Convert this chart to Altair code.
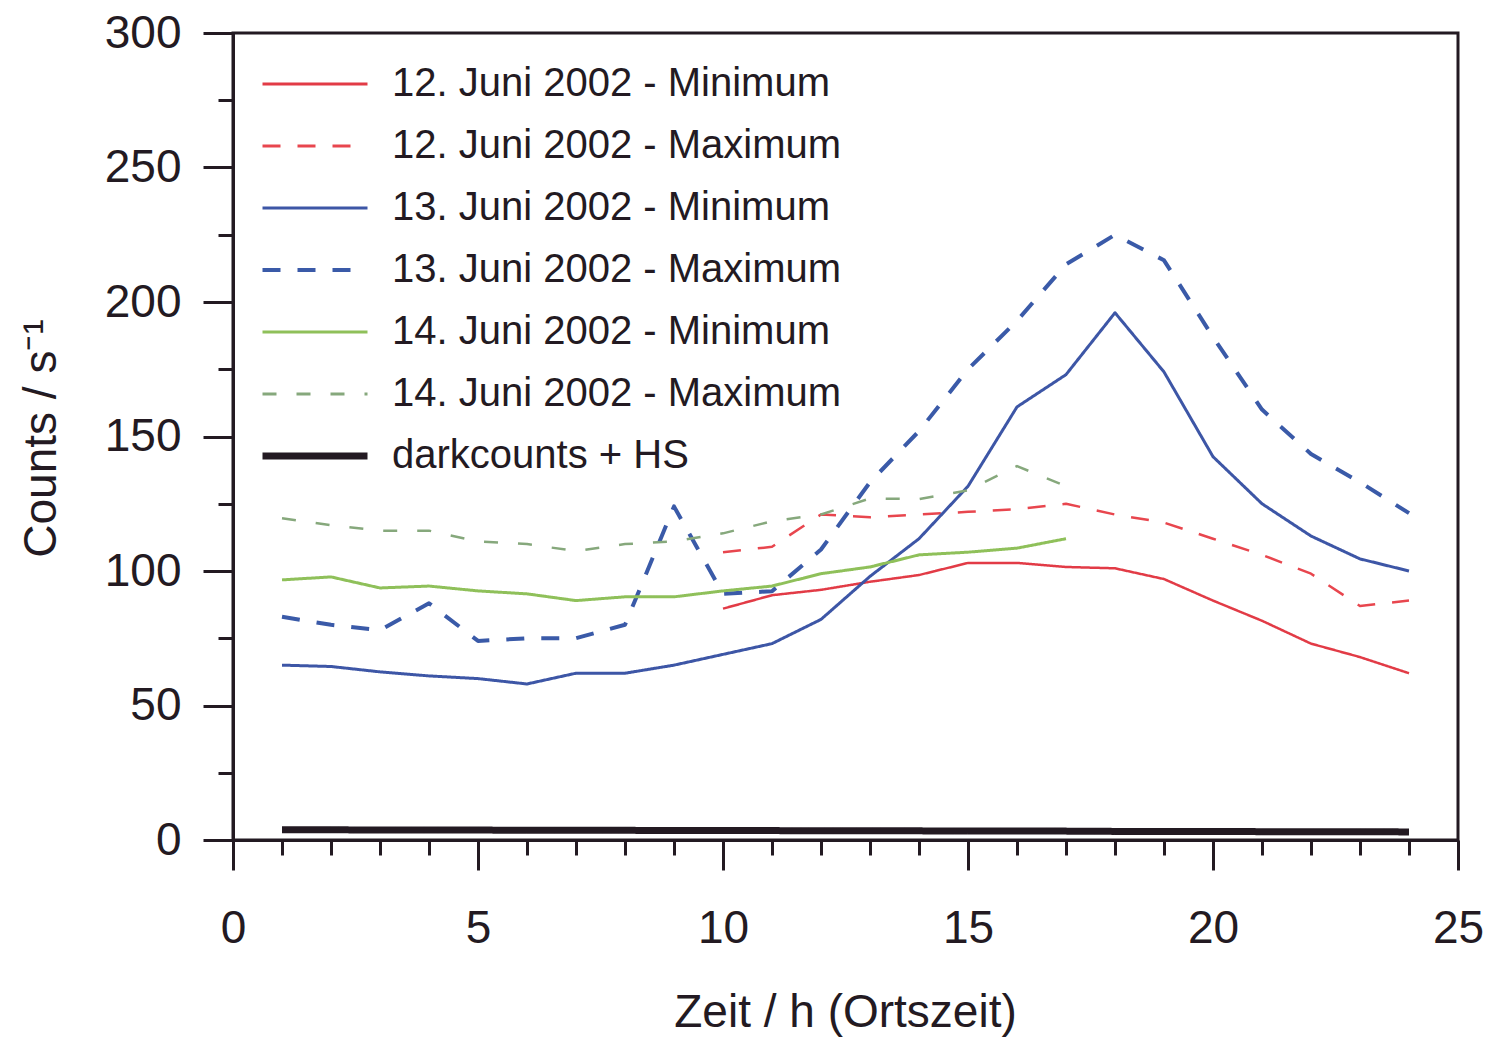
import altair as alt
import pandas as pd

hours = list(range(1, 25))

series_names = [
    "12. Juni 2002 - Minimum",
    "12. Juni 2002 - Maximum",
    "13. Juni 2002 - Minimum",
    "13. Juni 2002 - Maximum",
    "14. Juni 2002 - Minimum",
    "14. Juni 2002 - Maximum",
    "darkcounts + HS",
]

jun12_min = [None] * 9 + [86, 91, 93, 96, 98.5, 103, 103, 101.5, 101, 97, 89, 81.5, 73, 68, 62]
jun12_max = [None] * 9 + [107, 109, 121, 120, 121, 122, 123, 125, 121, 118, 112, 106, 99, 87, 89]
jun13_min = [65, 64.5, 62.5, 61, 60, 58, 62, 62, 65, 69, 73, 82, 98, 112, 131.5, 161, 173, 196, 174, 142.5, 125, 113, 104.5, 100]
jun13_max = [83, 80, 78, 88, 74, 75, 75, 80, 124, 91.5, 92.5, 108, 133, 152, 175, 193, 214, 225, 215.5, 187, 160, 143.5, 133, 121.5]
jun14_min = [96.7, 97.8, 93.7, 94.4, 92.6, 91.5, 89, 90.4, 90.4, 92.6, 94.4, 99, 101.5, 106, 107, 108.5, 112] + [None] * 7
jun14_max = [119.6, 117, 115, 115, 111, 110, 107.4, 110, 111, 114, 118.5, 121, 127, 126.7, 130, 139, 131.5] + [None] * 7
darkcounts = [3.8, 3.8, 3.7, 3.7, 3.7, 3.6, 3.6, 3.6, 3.5, 3.5, 3.5, 3.4, 3.4, 3.4, 3.3, 3.3, 3.3, 3.2, 3.2, 3.2, 3.1, 3.1, 3.1, 3.0]

all_values = [jun12_min, jun12_max, jun13_min, jun13_max, jun14_min, jun14_max, darkcounts]

colors = ["#e23b46", "#e8464e", "#3d56a6", "#3a5aa8", "#8fc05a", "#86a87c", "#231a22"]
dashes = [[1, 0], [18, 17], [1, 0], [18, 17], [1, 0], [14, 20], [1, 0]]
widths = [2.5, 2.5, 3, 4, 3, 2.5, 7]

rows = []
for name, vals, w in zip(series_names, all_values, widths):
    for h, v in zip(hours, vals):
        if v is not None:
            rows.append({"Zeit": h, "Counts": v, "series": name, "w": w})
df = pd.DataFrame(rows)

ink = "#231a22"
font = "Liberation Sans"

x_axis = alt.Axis(
    values=list(range(0, 26)),
    labelExpr="datum.value % 5 === 0 ? datum.label : ''",
    tickSize={"condition": {"test": "datum.value % 5 !== 0", "value": 15}, "value": 30},
    labelPadding=36,
    labelFontSize=46,
    labelFlush=False,
    title="Zeit / h (Ortszeit)",
    titleFontSize=46,
    titleFontWeight="normal",
    titleX=612,
    titleY=172,
    titleBaseline="middle",
    grid=False,
)
y_axis = alt.Axis(
    values=list(range(0, 301, 25)),
    labelExpr="datum.value % 50 === 0 ? datum.label : ''",
    tickSize={"condition": {"test": "datum.value % 50 !== 0", "value": 15}, "value": 30},
    labelPadding=22,
    labelFontSize=46,
    labelFlush=False,
    title="Counts / s⁻¹",
    titleFontSize=46,
    titleFontWeight="normal",
    titleX=-192,
    titleY=405,
    titleBaseline="middle",
    titleAngle=-90,
    grid=False,
)

leg = alt.Legend(
    title=None,
    orient="none",
    legendX=62,
    legendY=31,
    symbolType="stroke",
    symbolSize=11025,
    symbolStrokeWidth=alt.ExprRef(
        expr="datum.label === 'darkcounts + HS' ? 7 : (datum.label === '13. Juni 2002 - Maximum' ? 4 : 3)"
    ),
    labelFontSize=40,
    labelColor=ink,
    labelFont=font,
    labelOffset=57,
    rowPadding=22,
    labelLimit=700,
)

chart = (
    alt.Chart(df)
    .mark_line(strokeCap="butt", strokeJoin="round")
    .encode(
        x=alt.X("Zeit:Q", scale=alt.Scale(domain=[0, 25], nice=False, zero=False), axis=x_axis),
        y=alt.Y("Counts:Q", scale=alt.Scale(domain=[0, 300], nice=False), axis=y_axis),
        color=alt.Color("series:N", scale=alt.Scale(domain=series_names, range=colors), legend=leg),
        strokeDash=alt.StrokeDash("series:N", scale=alt.Scale(domain=series_names, range=dashes), legend=leg),
        strokeWidth=alt.StrokeWidth("w:Q", scale=None, legend=None),
        detail="series:N",
    )
    .properties(
        width=1225,
        height=807,
        autosize="none",
        padding={"left": 233, "top": 33, "right": 32, "bottom": 201},
        background="white",
    )
    .configure_axis(
        domainColor=ink,
        domainWidth=3,
        tickColor=ink,
        tickWidth=3,
        labelColor=ink,
        titleColor=ink,
        labelFont=font,
        titleFont=font,
    )
    .configure_view(stroke=ink, strokeWidth=3)
)

chart.save("out.html", embed_options={"renderer": "svg", "actions": False})
